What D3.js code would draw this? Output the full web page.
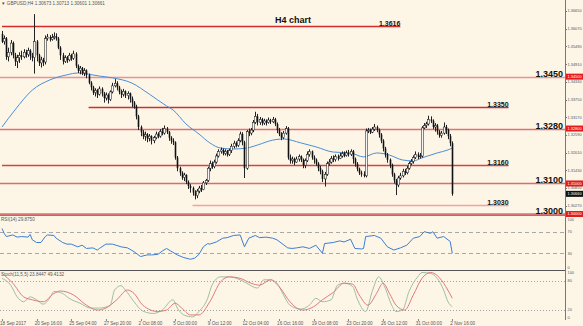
<!DOCTYPE html>
<meta charset="utf-8">
<style>
	body { margin: 0; background: #fdf6e7; }
	svg { display: block; font-family: "Liberation Sans", Arial, sans-serif; }
	.tick-txt { font-size: 4.6px; fill: #555; }
	.ax-txt { font-size: 3.9px; fill: #555; }
	.wick { stroke: #222; stroke-width: 1; }
	.lvl-big { font-size: 9px; font-weight: bold; fill: #111; text-anchor: end; }
	.lvl-small { font-size: 7px; font-weight: bold; fill: #111; text-anchor: end; }
</style>
<body>
<script src="https://d3js.org/d3.v7.min.js"></script>
<script>

var width = 583,
	height = 326;

// GBPUSD H4 bars, 18 Sep - 2 Nov 2017 (open = previous close)
var firstOpen = 1.3590;
var closes = [
	1.3565,1.3575,1.3515,1.3530,1.3560,1.3520,1.3500,1.3512,1.3520,1.3515,
	1.3530,1.3522,1.3535,1.3518,1.3512,1.3565,1.3520,1.3495,1.3505,1.3498,
	1.3575,1.3580,1.3572,1.3578,1.3582,1.3575,1.3545,1.3520,1.3500,1.3512,
	1.3505,1.3520,1.3510,1.3525,1.3485,1.3470,1.3478,1.3462,1.3470,1.3455,
	1.3430,1.3415,1.3398,1.3405,1.3392,1.3410,1.3395,1.3380,1.3390,1.3375,
	1.3400,1.3420,1.3428,1.3415,1.3400,1.3392,1.3402,1.3388,1.3395,1.3378,
	1.3365,1.3352,1.3320,1.3285,1.3268,1.3255,1.3260,1.3248,1.3255,1.3240,
	1.3250,1.3262,1.3255,1.3270,1.3265,1.3280,1.3268,1.3250,1.3240,1.3235,
	1.3185,1.3150,1.3135,1.3120,1.3128,1.3105,1.3092,1.3085,1.3070,1.3060,
	1.3075,1.3085,1.3080,1.3102,1.3110,1.3150,1.3165,1.3155,1.3170,1.3190,
	1.3205,1.3210,1.3198,1.3205,1.3195,1.3208,1.3222,1.3232,1.3225,1.3240,
	1.3262,1.3235,1.3150,1.3270,1.3265,1.3275,1.3300,1.3320,1.3300,1.3310,
	1.3298,1.3305,1.3300,1.3308,1.3302,1.3310,1.3295,1.3275,1.3262,1.3250,
	1.3265,1.3280,1.3185,1.3175,1.3180,1.3170,1.3180,1.3188,1.3178,1.3160,
	1.3175,1.3195,1.3205,1.3185,1.3178,1.3165,1.3150,1.3140,1.3115,1.3130,
	1.3165,1.3170,1.3182,1.3178,1.3188,1.3182,1.3190,1.3198,1.3192,1.3200,
	1.3195,1.3205,1.3180,1.3165,1.3148,1.3135,1.3130,1.3125,1.3272,1.3275,
	1.3268,1.3278,1.3285,1.3275,1.3260,1.3240,1.3215,1.3195,1.3178,1.3160,
	1.3130,1.3110,1.3095,1.3118,1.3125,1.3140,1.3135,1.3150,1.3165,1.3172,
	1.3185,1.3195,1.3188,1.3190,1.3282,1.3290,1.3295,1.3310,1.3305,1.3285,
	1.3290,1.3270,1.3258,1.3265,1.3285,1.3275,1.3255,1.3232,1.3066
];
var highs = [
	1.3600,1.3585,1.3580,1.3545,1.3570,1.3565,1.3528,1.3522,1.3530,1.3535,
	1.3540,1.3538,1.3545,1.3540,1.3528,1.3655,1.3570,1.3525,1.3515,1.3512,
	1.3585,1.3590,1.3586,1.3590,1.3595,1.3592,1.3580,1.3550,1.3528,1.3520,
	1.3518,1.3528,1.3525,1.3535,1.3530,1.3490,1.3485,1.3482,1.3478,1.3474,
	1.3460,1.3435,1.3420,1.3412,1.3410,1.3418,1.3415,1.3400,1.3398,1.3395,
	1.3405,1.3430,1.3442,1.3435,1.3420,1.3408,1.3410,1.3405,1.3402,1.3398,
	1.3385,1.3370,1.3358,1.3325,1.3290,1.3275,1.3270,1.3265,1.3262,1.3258,
	1.3256,1.3270,1.3268,1.3278,1.3282,1.3290,1.3285,1.3272,1.3255,1.3248,
	1.3238,1.3190,1.3155,1.3140,1.3135,1.3130,1.3110,1.3098,1.3090,1.3078,
	1.3082,1.3092,1.3095,1.3108,1.3115,1.3155,1.3175,1.3172,1.3178,1.3198,
	1.3212,1.3218,1.3215,1.3212,1.3210,1.3214,1.3230,1.3240,1.3238,1.3248,
	1.3270,1.3268,1.3240,1.3275,1.3280,1.3282,1.3308,1.3335,1.3328,1.3318,
	1.3315,1.3312,1.3310,1.3316,1.3312,1.3318,1.3315,1.3300,1.3282,1.3268,
	1.3272,1.3288,1.3285,1.3195,1.3188,1.3185,1.3188,1.3195,1.3192,1.3182,
	1.3182,1.3205,1.3212,1.3208,1.3192,1.3182,1.3170,1.3158,1.3145,1.3138,
	1.3172,1.3180,1.3190,1.3192,1.3195,1.3195,1.3200,1.3205,1.3205,1.3208,
	1.3210,1.3212,1.3210,1.3185,1.3170,1.3152,1.3142,1.3140,1.3280,1.3282,
	1.3280,1.3285,1.3295,1.3290,1.3280,1.3265,1.3245,1.3220,1.3200,1.3182,
	1.3165,1.3135,1.3115,1.3125,1.3135,1.3148,1.3148,1.3158,1.3172,1.3180,
	1.3192,1.3205,1.3202,1.3200,1.3288,1.3298,1.3302,1.3322,1.3320,1.3310,
	1.3298,1.3295,1.3275,1.3272,1.3300,1.3292,1.3280,1.3262,1.3238
];
var lows = [
	1.3560,1.3555,1.3505,1.3500,1.3520,1.3510,1.3485,1.3478,1.3495,1.3505,
	1.3510,1.3512,1.3515,1.3505,1.3500,1.3460,1.3500,1.3485,1.3480,1.3485,
	1.3490,1.3568,1.3565,1.3568,1.3572,1.3568,1.3540,1.3505,1.3490,1.3495,
	1.3495,1.3500,1.3502,1.3505,1.3478,1.3462,1.3458,1.3455,1.3452,1.3445,
	1.3425,1.3405,1.3390,1.3385,1.3380,1.3388,1.3385,1.3365,1.3372,1.3362,
	1.3370,1.3395,1.3415,1.3405,1.3392,1.3380,1.3385,1.3380,1.3375,1.3365,
	1.3350,1.3345,1.3310,1.3275,1.3255,1.3245,1.3240,1.3235,1.3238,1.3228,
	1.3232,1.3245,1.3248,1.3250,1.3258,1.3260,1.3262,1.3240,1.3230,1.3226,
	1.3178,1.3140,1.3125,1.3112,1.3108,1.3098,1.3082,1.3070,1.3060,1.3048,
	1.3052,1.3068,1.3072,1.3078,1.3095,1.3105,1.3140,1.3148,1.3150,1.3165,
	1.3185,1.3198,1.3192,1.3192,1.3188,1.3190,1.3200,1.3215,1.3218,1.3220,
	1.3235,1.3225,1.3118,1.3145,1.3255,1.3258,1.3268,1.3295,1.3290,1.3292,
	1.3290,1.3292,1.3290,1.3296,1.3295,1.3298,1.3288,1.3265,1.3255,1.3242,
	1.3245,1.3260,1.3178,1.3165,1.3165,1.3160,1.3168,1.3172,1.3170,1.3150,
	1.3150,1.3170,1.3188,1.3178,1.3165,1.3158,1.3140,1.3130,1.3105,1.3090,
	1.3125,1.3158,1.3165,1.3170,1.3172,1.3175,1.3180,1.3185,1.3186,1.3188,
	1.3188,1.3190,1.3165,1.3155,1.3140,1.3128,1.3122,1.3120,1.3120,1.3265,
	1.3262,1.3265,1.3272,1.3268,1.3250,1.3232,1.3205,1.3185,1.3168,1.3150,
	1.3122,1.3100,1.3062,1.3088,1.3112,1.3120,1.3128,1.3130,1.3145,1.3160,
	1.3165,1.3180,1.3180,1.3182,1.3185,1.3278,1.3282,1.3290,1.3298,1.3278,
	1.3270,1.3260,1.3250,1.3250,1.3260,1.3262,1.3245,1.3222,1.3060
];

// moving average, read as [bar, price]
var maLine = [
	[0,1.3285],[6,1.3341],[14,1.3406],[22,1.3439],[30,1.3456],[35,1.3462],
	[45,1.3452],[51,1.3446],[60,1.3429],[68,1.3393],[76,1.3354],[79,1.3341],
	[85,1.3295],[91,1.3262],[96,1.3233],[101,1.3216],[107,1.3213],[113,1.3216],
	[118,1.3226],[125,1.3242],[130,1.3246],[138,1.3233],[145,1.3220],[153,1.3203],
	[161,1.3200],[167,1.3187],[173,1.3200],[179,1.3193],[185,1.3177],[190,1.3174],
	[194,1.3184],[201,1.3200],[206,1.3210],[208,1.3216]
];

// RSI(14), [bar, value]
var rsiLine = [
	[0,76],[1,67],[2,61],[5,64],[7,60],[9,61],[12,60],[13,65],[14,55],[16,50],
	[18,50],[20,61],[21,64],[24,63],[25,58],[28,50],[30,47],[32,47],[35,42],[37,45],
	[39,39],[42,40],[44,36],[45,39],[48,47],[51,47],[55,42],[58,40],[61,33],[64,24],
	[67,27],[69,27],[72,28],[74,34],[76,39],[78,34],[81,27],[84,22],[87,19],[89,21],
	[91,28],[93,42],[95,48],[96,47],[99,51],[102,58],[104,59],[107,63],[110,64],[112,42],
	[114,58],[117,63],[119,59],[122,60],[125,58],[127,55],[132,40],[134,39],[136,40],[139,42],
	[142,39],[145,45],[148,30],[149,48],[153,50],[156,53],[158,51],[161,56],[163,39],[166,38],
	[167,39],[168,61],[172,63],[175,58],[178,42],[181,36],[184,40],[187,45],[190,58],[193,61],
	[195,70],[198,67],[199,70],[201,58],[204,61],[206,55],[207,52],[208,30]
];

// Stochastic(11,5,5) main and signal, [bar, value]
var stochMain = [
	[0,85],[4,71],[7,47],[10,37],[13,47],[16,41],[19,32],[22,44],[24,58],[28,54],
	[31,44],[36,34],[41,24],[45,24],[50,30],[52,61],[55,70],[57,61],[61,37],[65,18],
	[70,13],[74,20],[79,41],[81,24],[84,10],[88,6],[91,17],[95,44],[97,71],[101,88],
	[105,88],[110,82],[113,75],[118,65],[121,82],[124,82],[127,75],[130,51],[133,30],[138,22],
	[142,30],[145,44],[148,37],[152,41],[155,71],[158,75],[162,68],[164,44],[168,17],[171,58],
	[174,88],[177,65],[180,30],[182,17],[185,20],[188,58],[192,88],[194,97],[198,95],[201,85],
	[204,61],[206,37],[208,27]
];
var stochSignal = [
	[0,95],[5,75],[10,47],[14,41],[19,37],[24,54],[27,59],[33,51],[39,30],[44,20],
	[48,24],[53,41],[58,61],[61,54],[65,30],[72,17],[76,20],[80,34],[83,24],[87,10],
	[91,10],[96,37],[101,78],[105,88],[110,85],[115,75],[119,71],[124,82],[128,68],[133,37],
	[137,22],[139,20],[144,27],[148,41],[153,56],[158,75],[162,73],[165,51],[169,30],[173,54],
	[176,75],[179,54],[182,30],[186,20],[190,51],[194,85],[198,97],[201,91],[205,68],[208,44]
];

// support / resistance
var hLevels = [1.3450, 1.3280, 1.3100, 1.3000];
var segLevels = [1.3616, 1.3350, 1.3160, 1.3030];
var segFrom = [0, 40, 0, 88];
var segTo = [184, 234, 234, 234];

var priceTicks = [1.3665, 1.3607, 1.3549, 1.3491, 1.3433, 1.3375, 1.3317, 1.3259, 1.3201, 1.3143, 1.3085, 1.3027];
var timeBars = [0, 16, 32, 48, 64, 80, 96, 112, 128, 144, 160, 176, 192, 208];
var timeLabels = ["18 Sep 2017", "20 Sep 16:00", "25 Sep 04:00", "27 Sep 20:00", "2 Oct 08:00", "5 Oct 00:00",
	"9 Oct 12:00", "12 Oct 04:00", "16 Oct 16:00", "19 Oct 08:00", "23 Oct 20:00", "26 Oct 12:00",
	"31 Oct 00:00", "2 Nov 16:00"];
var rsiTicks = [100, 70, 30, 0];
var stochTicks = [100, 80, 20, 0];

var axisX = 565;

var x = d3.scaleLinear().domain([0, 208]).range([2, 452.3]);
var y = d3.scaleLinear().domain([1.3, 1.3616]).range([214, 26]);
var yRsi = d3.scaleLinear().domain([0, 100]).range([269.5, 215.5]);
var ySto = d3.scaleLinear().domain([0, 100]).range([319.8, 271]);
var fmt = d3.format(".5f");

var svg = d3.select("body").append("svg")
	.attr("width", width)
	.attr("height", height);

svg.append("rect")
	.attr("width", width)
	.attr("height", height)
	.attr("fill", "#fdf6e7");

// pane frames
svg.append("line").attr("x1", axisX + 0.5).attr("x2", axisX + 0.5).attr("y1", 0).attr("y2", 320)
	.attr("stroke", "#777").attr("stroke-width", 1);
svg.append("line").attr("x1", 0).attr("x2", axisX).attr("y1", 215.5).attr("y2", 215.5)
	.attr("stroke", "#555").attr("stroke-width", 1);
svg.append("line").attr("x1", 0).attr("x2", axisX).attr("y1", 270.5).attr("y2", 270.5)
	.attr("stroke", "#555").attr("stroke-width", 1);

// header
svg.append("text").attr("class", "tick-txt").attr("x", 1).attr("y", 5)
	.text("\u25BC GBPUSD,H4  1.30673 1.30713 1.30601 1.30661");

var main = svg.append("g");

main.append("text")
	.attr("x", 293).attr("y", 23)
	.attr("text-anchor", "middle")
	.style("font-size", "9px").style("font-weight", "bold").attr("fill", "#111")
	.text("H4 chart");

// levels
var segColors = ["#d42c2c", "#d42c2c", "#dc4040", "#f2a0a0"];
segLevels.forEach(function(p, k) {
	main.append("line")
		.attr("x1", x(segFrom[k])).attr("x2", x(segTo[k]))
		.attr("y1", Math.round(y(p)) + 0.5).attr("y2", Math.round(y(p)) + 0.5)
		.attr("stroke", segColors[k]).attr("stroke-width", 1.4);
	main.append("text").attr("class", "lvl-small")
		.attr("x", x(segTo[k])).attr("y", Math.round(y(p)) - 0.5)
		.text(p.toFixed(4));
});

var hColors = ["#f09090", "#e27070", "#e06a6a", "#d87474"];
hLevels.forEach(function(p, k) {
	main.append("line")
		.attr("x1", 0).attr("x2", axisX)
		.attr("y1", Math.round(y(p)) + 0.5).attr("y2", Math.round(y(p)) + 0.5)
		.attr("stroke", hColors[k]).attr("stroke-width", k == 3 ? 2.5 : 1.4);
	main.append("text").attr("class", "lvl-big")
		.attr("x", 563).attr("y", Math.round(y(p)) - 0.5)
		.text(p.toFixed(4));
});

// moving average
main.append("path")
	.datum(maLine)
	.attr("fill", "none")
	.attr("stroke", "#4a8fd6")
	.attr("stroke-width", 1)
	.attr("d", d3.line().curve(d3.curveMonotoneX)
		.x(function(d) { return x(d[0]); })
		.y(function(d) { return y(d[1]); }));

// candles
var bars = closes.map(function(c, i) {
	var o = i == 0 ? firstOpen : closes[i - 1];
	return { i: i, o: o, c: c, h: Math.max(highs[i], o, c), l: Math.min(lows[i], o, c) };
});

var candle = main.append("g").selectAll("g")
	.data(bars)
	.enter().append("g");

candle.append("line")
	.attr("class", "wick")
	.attr("x1", function(d) { return Math.round(x(d.i)) + 0.5; })
	.attr("x2", function(d) { return Math.round(x(d.i)) + 0.5; })
	.attr("y1", function(d) { return y(d.h); })
	.attr("y2", function(d) { return y(d.l); });

candle.append("rect")
	.attr("x", function(d) { return Math.round(x(d.i)) - 0.3; })
	.attr("width", 1.6)
	.attr("y", function(d) { return y(Math.max(d.o, d.c)); })
	.attr("height", function(d) { return Math.max(0.8, Math.abs(y(d.o) - y(d.c))); })
	.attr("fill", function(d) { return d.c >= d.o ? "#f6f6f6" : "#111"; })
	.attr("stroke", "#111")
	.attr("stroke-width", function(d) { return d.c >= d.o ? 0.5 : 0; });

// price axis
svg.append("g").selectAll("text")
	.data(priceTicks)
	.enter().append("text")
		.attr("class", "ax-txt")
		.attr("x", 567.5)
		.attr("y", function(d) { return y(d) + 1.4; })
		.text(function(d) { return fmt(d); });

svg.append("g").selectAll("line")
	.data(priceTicks)
	.enter().append("line")
		.attr("x1", axisX).attr("x2", axisX + 2)
		.attr("y1", function(d) { return Math.round(y(d)) + 0.5; })
		.attr("y2", function(d) { return Math.round(y(d)) + 0.5; })
		.attr("stroke", "#777");

var tags = svg.append("g").selectAll("g")
	.data(hLevels.map(function(p) { return { p: p, bg: "#e41b1b" }; })
		.concat([{ p: closes[closes.length - 1], bg: "#111" }]))
	.enter().append("g");

tags.append("rect")
	.attr("x", axisX + 1).attr("width", 17)
	.attr("y", function(d) { return y(d.p) - 3; })
	.attr("height", 6)
	.attr("fill", function(d) { return d.bg; });

tags.append("text")
	.attr("class", "ax-txt")
	.attr("x", 567.5)
	.attr("y", function(d) { return y(d.p) + 1.4; })
	.style("fill", "#fff")
	.text(function(d) { return fmt(d.p); });

// RSI pane
var rsi = svg.append("g");
rsi.append("text").attr("class", "tick-txt").attr("x", 1).attr("y", 220.5).text("RSI(14) 29.8750");
[70, 30].forEach(function(v) {
	rsi.append("line").attr("x1", 0).attr("x2", axisX)
		.attr("y1", Math.round(yRsi(v)) + 0.5).attr("y2", Math.round(yRsi(v)) + 0.5)
		.attr("stroke", "#a8a8a8").attr("stroke-dasharray", "4,3");
});
rsi.append("path")
	.datum(rsiLine)
	.attr("fill", "none")
	.attr("stroke", "#3a7fd5")
	.attr("stroke-width", 1)
	.attr("d", d3.line()
		.x(function(d) { return x(d[0]); })
		.y(function(d) { return yRsi(d[1]); }));
rsi.selectAll(".rt")
	.data(rsiTicks)
	.enter().append("text")
		.attr("class", "ax-txt")
		.attr("x", 567.5)
		.attr("y", function(d) { return Math.max(221, Math.min(yRsi(d) + 1.4, 269)); })
		.text(function(d) { return d; });

// Stochastic pane
var sto = svg.append("g");
sto.append("text").attr("class", "tick-txt").attr("x", 1).attr("y", 275.5).text("Stoch(11,5,5) 23.8447 49.4132");
[80, 20].forEach(function(v) {
	sto.append("line").attr("x1", 0).attr("x2", axisX)
		.attr("y1", Math.round(ySto(v)) + 0.5).attr("y2", Math.round(ySto(v)) + 0.5)
		.attr("stroke", "#a0a0a0").attr("stroke-dasharray", "1,2");
});
var stoLine = d3.line().curve(d3.curveMonotoneX)
	.x(function(d) { return x(d[0]); })
	.y(function(d) { return ySto(d[1]); });
sto.append("path").datum(stochMain)
	.attr("fill", "none").attr("stroke", "#9fbf9f").attr("stroke-width", 1)
	.attr("d", stoLine);
sto.append("path").datum(stochSignal)
	.attr("fill", "none").attr("stroke", "#e07a7a").attr("stroke-width", 1)
	.attr("d", stoLine);
sto.selectAll(".st")
	.data(stochTicks)
	.enter().append("text")
		.attr("class", "ax-txt")
		.attr("x", 567.5)
		.attr("y", function(d) { return Math.max(274, Math.min(ySto(d) + 1.4, 319)); })
		.text(function(d) { return d; });

// time axis
var tAxis = svg.append("g");
tAxis.selectAll("text")
	.data(timeLabels)
	.enter().append("text")
		.attr("class", "tick-txt")
		.attr("x", function(d, k) { return x(timeBars[k]) - 2; })
		.attr("y", 324.5)
		.text(function(d) { return d; });
tAxis.selectAll("line")
	.data(timeBars)
	.enter().append("line")
		.attr("x1", function(d) { return Math.round(x(d)) + 0.5; })
		.attr("x2", function(d) { return Math.round(x(d)) + 0.5; })
		.attr("y1", 319).attr("y2", 321)
		.attr("stroke", "#888");

</script>
</body>
